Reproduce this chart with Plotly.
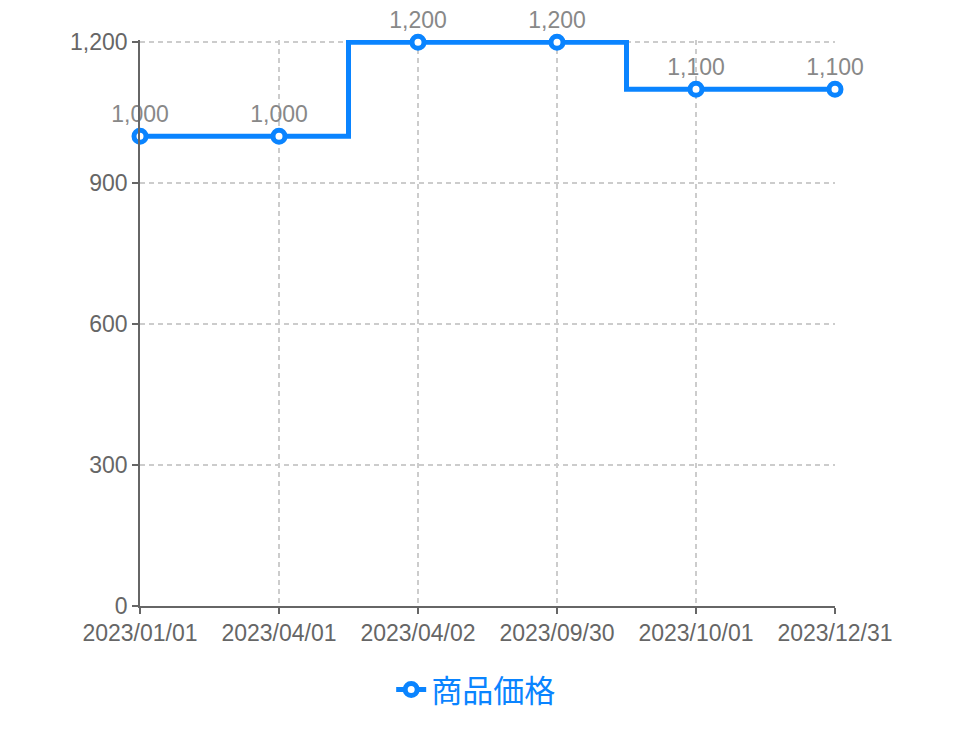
import plotly.graph_objects as go

dates = ["2023/01/01", "2023/04/01", "2023/04/02", "2023/09/30", "2023/10/01", "2023/12/31"]
prices = [1000, 1000, 1200, 1200, 1100, 1100]
series_name = "商品価格"
y_ticks = [0, 300, 600, 900, 1200]

BLUE = "#0A84FF"
LATIN = "Liberation Sans, Arial, sans-serif"
CJK = "Noto Sans CJK JP, sans-serif"

fig = go.Figure()
fig.add_trace(go.Scatter(
    x=dates, y=prices, name=series_name,
    mode="lines+markers+text",
    line=dict(color=BLUE, width=5, shape="hvh"),
    marker=dict(size=12, color="white", line=dict(color=BLUE, width=5)),
    text=[f"{v:,}" for v in prices],
    textposition="top center",
    textfont=dict(family=LATIN, size=23, color="#888888"),
    cliponaxis=False,
))

grid = dict(showgrid=True, gridcolor="#cccccc", griddash="5px,4px", gridwidth=1.5)
axis_common = dict(showline=True, linecolor="#666666", linewidth=1.5,
                   ticks="outside", ticklen=6, tickcolor="#666666", tickwidth=1.5,
                   tickfont=dict(family=LATIN, size=23, color="#666666"), zeroline=False, **grid)

fig.update_layout(
    width=960, height=720,
    margin=dict(l=132, r=133, t=31.6, b=121),
    plot_bgcolor="white", paper_bgcolor="white",
    showlegend=True,
    legend=dict(orientation="h", x=0.483, xanchor="center", y=-0.146, yanchor="middle",
                font=dict(family=CJK, size=31, color=BLUE)),
    xaxis=dict(type="category", range=[0, 5], **axis_common),
    yaxis=dict(range=[0, 1205], tickvals=y_ticks, tickformat=",d", **axis_common),
)

fig.write_html("out.html")
